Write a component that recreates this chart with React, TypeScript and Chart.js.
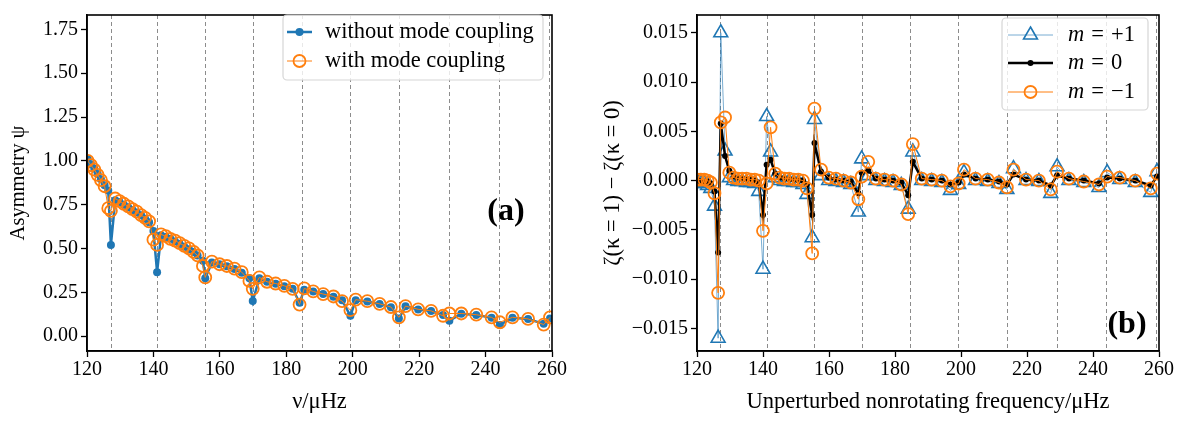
import { useEffect, useRef } from "react";
import { Chart, registerables } from "chart.js";

Chart.register(...registerables);

// ---------------- data ----------------
// unperturbed mode frequencies (μHz), shared by both panels
const freqs = [
  120.2, 121.2, 122.2, 123.2, 124.2, 125.3, 126.4, 127.2, 128.5, 129.8,
  131.1, 132.4, 133.7, 135.0, 136.3, 137.5, 138.7, 140.0, 141.1, 142.3,
  143.7, 145.1, 146.5, 147.9, 149.3, 150.7, 152.1, 153.3, 154.9, 155.6,
  157.6, 159.9, 162.1, 164.4, 166.6, 168.9, 169.9, 171.9, 174.2, 176.8,
  179.4, 181.9, 184.0, 185.4, 188.1, 191.1, 194.2, 196.8, 199.3, 200.9,
  204.4, 208.1, 211.5, 213.9, 215.9, 219.7, 223.6, 227.2, 229.1, 232.7,
  237.2, 241.8, 244.3, 248.1, 252.8, 257.5, 259.4,
];

// panel (a): asymmetry psi
const asymWithout = [
  1.01, 0.98, 0.955, 0.925, 0.895, 0.86, 0.83, 0.52, 0.775, 0.765,
  0.75, 0.735, 0.72, 0.705, 0.69, 0.67, 0.65, 0.6, 0.365, 0.575,
  0.565, 0.555, 0.54, 0.525, 0.51, 0.495, 0.48, 0.46, 0.43, 0.33,
  0.42, 0.41, 0.398, 0.383, 0.362, 0.33, 0.2, 0.33, 0.31, 0.298,
  0.285, 0.27, 0.19, 0.265, 0.254, 0.24, 0.225, 0.205, 0.116, 0.205,
  0.197, 0.183, 0.165, 0.1, 0.17, 0.152, 0.143, 0.12, 0.088, 0.128,
  0.121, 0.105, 0.064, 0.105, 0.097, 0.07, 0.1,
];
const asymWith = [
  1.0, 0.975, 0.95, 0.92, 0.89, 0.855, 0.73, 0.715, 0.785, 0.77,
  0.755, 0.74, 0.725, 0.71, 0.69, 0.675, 0.655, 0.55, 0.52, 0.58,
  0.57, 0.555, 0.545, 0.53, 0.515, 0.5, 0.48, 0.46, 0.4, 0.335,
  0.425, 0.41, 0.4, 0.385, 0.365, 0.315, 0.27, 0.335, 0.31, 0.3,
  0.287, 0.27, 0.18, 0.272, 0.255, 0.24, 0.226, 0.2, 0.148, 0.208,
  0.199, 0.184, 0.166, 0.107, 0.171, 0.153, 0.144, 0.116, 0.129, 0.129,
  0.122, 0.107, 0.079, 0.107, 0.098, 0.066, 0.107,
];

// panel (b): zeta(kappa=1) - zeta(kappa=0)
const dZetaPlus = [
  -0.0002, -0.0003, -0.0003, -0.0005, -0.0008, -0.0026, -0.016, 0.015, 0.003, 0.0003,
  0.0, -0.0001, -0.0001, -0.0002, -0.0002, -0.0003, -0.0011, -0.009, 0.0065, 0.0029,
  0.0003, 0.0, -0.0001, -0.0001, -0.0002, -0.0002, -0.0004, -0.0014, -0.0058, 0.0062,
  0.0005, 0.0, -0.0001, -0.0002, -0.0004, -0.0032, 0.0022, 0.0005, 0.0, -0.0001,
  -0.0002, -0.0005, -0.0029, 0.0029, 0.0, -0.0001, -0.0002, -0.001, -0.0004, 0.0008,
  0.0, -0.0001, -0.0003, -0.0009, 0.0012, 0.0, -0.0001, -0.0013, 0.0014, 0.0,
  -0.0002, -0.0007, 0.0008, 0.0001, -0.0002, -0.0012, 0.0009,
];
const dZetaZero = [
  0.0, -0.0001, -0.0001, -0.0001, -0.0003, -0.0011, -0.0073, 0.0058, 0.0025, 0.001,
  0.0004, 0.0002, 0.0002, 0.0001, 0.0001, 0.0, -0.0002, -0.0035, 0.0016, 0.0021,
  0.0007, 0.0003, 0.0002, 0.0001, 0.0001, 0.0, 0.0, -0.0004, -0.0035, 0.0038,
  0.0009, 0.0003, 0.0001, 0.0, -0.0001, -0.0013, 0.0008, 0.001, 0.0002, 0.0001,
  0.0, -0.0002, -0.0015, 0.0019, 0.0002, 0.0001, 0.0, -0.0004, -0.0002, 0.0006,
  0.0002, 0.0001, -0.0001, -0.0004, 0.0006, 0.0001, 0.0, -0.0005, 0.0005, 0.0002,
  0.0, -0.0003, 0.0003, 0.0002, 0.0, -0.0005, 0.0004,
];
const dZetaMinus = [
  0.0001, 0.0001, 0.0001, 0.0, -0.0002, -0.0013, -0.0114, 0.0059, 0.0064, 0.0008,
  0.0003, 0.0002, 0.0002, 0.0002, 0.0001, 0.0001, 0.0, -0.0051, -0.0003, 0.0054,
  0.0007, 0.0003, 0.0002, 0.0002, 0.0001, 0.0001, 0.0, -0.0008, -0.0074, 0.0073,
  0.0011, 0.0003, 0.0002, 0.0, -0.0002, -0.0019, 0.0004, 0.0019, 0.0002, 0.0001,
  0.0, -0.0004, -0.0034, 0.0037, 0.0002, 0.0001, 0.0, -0.0006, -0.0003, 0.0011,
  0.0002, 0.0001, -0.0002, -0.0007, 0.0011, 0.0001, 0.0, -0.0009, 0.0009, 0.0002,
  -0.0001, -0.0004, 0.0004, 0.0003, 0.0, -0.0008, 0.0007,
];

// nominal p-mode frequencies (dashed vertical lines)
const pModeFreqs = [127.1, 141.2, 155.5, 169.9, 184.6, 199.2, 214.0, 229.0, 244.0, 259.1];

// axis settings
const xRange = [120, 260];
const xStep = 20;
const yRangeA = [-0.085, 1.832];
const yStepA = 0.25;
const yRangeB = [-0.0173, 0.0168];
const yStepB = 0.005;

const legendLabelsA = ["without mode coupling", "with mode coupling"];
const legendLabelsB = ["+1", "0", "\u22121"];

// ---------------- styling ----------------
const SERIF = "'Liberation Serif', 'DejaVu Serif', serif";
const BLUE = "#1f77b4";
const ORANGE = "#ff7f0e";
const tickFont = { family: SERIF, size: 20 };
const xTitleFont = { family: SERIF, size: 22.5 };
const yTitleFontA = { family: SERIF, size: 20.5 };
const yTitleFontB = { family: SERIF, size: 22.5 };
const LEGEND_PX = 22.5;

const pts = (ys: number[]) => freqs.map((x, i) => ({ x, y: ys[i] }));

function fmt(v: number, d: number) {
  const a = Math.abs(v);
  if (a < 1e-12) return (0).toFixed(d);
  return (v < 0 ? "\u2212" : "") + a.toFixed(d);
}

function drawMarker(ctx: CanvasRenderingContext2D, style: string, x: number, y: number, r: number, fill: string | null, stroke: string | null, lw: number) {
  ctx.beginPath();
  if (style === "triangle") {
    let rad = 0;
    ctx.moveTo(x + Math.sin(rad) * r, y - Math.cos(rad) * r);
    rad += (2 * Math.PI) / 3;
    ctx.lineTo(x + Math.sin(rad) * r, y - Math.cos(rad) * r);
    rad += (2 * Math.PI) / 3;
    ctx.lineTo(x + Math.sin(rad) * r, y - Math.cos(rad) * r);
    ctx.closePath();
  } else {
    ctx.arc(x, y, r, 0, Math.PI * 2);
  }
  if (fill) {
    ctx.fillStyle = fill;
    ctx.fill();
  }
  if (stroke && lw > 0) {
    ctx.strokeStyle = stroke;
    ctx.lineWidth = lw;
    ctx.stroke();
  }
}

function roundRect(ctx: CanvasRenderingContext2D, x: number, y: number, w: number, h: number, r: number) {
  ctx.beginPath();
  ctx.moveTo(x + r, y);
  ctx.lineTo(x + w - r, y);
  ctx.arcTo(x + w, y, x + w, y + r, r);
  ctx.lineTo(x + w, y + h - r);
  ctx.arcTo(x + w, y + h, x + w - r, y + h, r);
  ctx.lineTo(x + r, y + h);
  ctx.arcTo(x, y + h, x, y + h - r, r);
  ctx.lineTo(x, y + r);
  ctx.arcTo(x, y, x + r, y, r);
  ctx.closePath();
}

const frameAndLinesPlugin = {
  id: "frameAndLines",
  beforeDatasetsDraw(chart: any) {
    const { ctx, chartArea: a, scales } = chart;
    const x = scales.x;
    ctx.save();
    ctx.strokeStyle = "#8c8c8c";
    ctx.lineWidth = 1;
    ctx.setLineDash([4, 3]);
    pModeFreqs.forEach((f) => {
      const px = Math.round(x.getPixelForValue(f)) + 0.5;
      if (px < a.left || px > a.right) return;
      ctx.beginPath();
      ctx.moveTo(px, a.top);
      ctx.lineTo(px, a.bottom);
      ctx.stroke();
    });
    ctx.restore();
  },
  afterDraw(chart: any) {
    const { ctx, chartArea: a } = chart;
    ctx.save();
    ctx.strokeStyle = "#000";
    ctx.lineWidth = 1.6;
    ctx.strokeRect(a.left, a.top, a.right - a.left, a.bottom - a.top);
    ctx.restore();
  },
};

type LegendCfg = {
  box: [number, number, number, number];
  rowY: number[];
  handle: [number, number];
  textX: number;
  italicM: boolean;
  labels: string[];
  order: number[];
};

function makeLegendPlugin(id: string, cfg: LegendCfg, panelLabel: { text: string; x: number; y: number }) {
  return {
    id,
    afterDraw(chart: any) {
      const ctx: CanvasRenderingContext2D = chart.ctx;
      ctx.save();
      // panel label
      ctx.font = `bold 32px ${SERIF}`;
      ctx.fillStyle = "#000";
      ctx.textAlign = "center";
      ctx.textBaseline = "middle";
      ctx.fillText(panelLabel.text, panelLabel.x, panelLabel.y);

      const [bx, by, bw, bh] = cfg.box;
      roundRect(ctx, bx, by, bw, bh, 4);
      ctx.fillStyle = "rgba(255,255,255,0.8)";
      ctx.fill();
      ctx.strokeStyle = "#d6d6d6";
      ctx.lineWidth = 1.2;
      ctx.stroke();

      cfg.order.forEach((di, row) => {
        const ds = chart.data.datasets[di];
        const y = cfg.rowY[row];
        const [h0, h1] = cfg.handle;
        ctx.beginPath();
        ctx.moveTo(h0, y);
        ctx.lineTo(h1, y);
        ctx.strokeStyle = ds.borderColor;
        ctx.lineWidth = ds.borderWidth;
        ctx.stroke();
        const bg = ds.pointBackgroundColor;
        drawMarker(
          ctx,
          ds.pointStyle,
          (h0 + h1) / 2,
          y,
          ds.pointRadius,
          bg && bg !== "transparent" ? bg : null,
          ds.pointBorderColor,
          ds.pointBorderWidth
        );
        ctx.fillStyle = "#000";
        ctx.textAlign = "left";
        ctx.textBaseline = "middle";
        let tx = cfg.textX;
        if (cfg.italicM) {
          ctx.font = `italic ${LEGEND_PX}px ${SERIF}`;
          ctx.fillText("m", tx, y);
          tx += ctx.measureText("m").width + 7;
          ctx.font = `${LEGEND_PX}px ${SERIF}`;
          ctx.fillText("=", tx, y);
          tx += ctx.measureText("=").width + 7;
          ctx.fillText(cfg.labels[row], tx, y);
        } else {
          ctx.font = `${LEGEND_PX}px ${SERIF}`;
          ctx.fillText(cfg.labels[row], tx, y);
        }
      });
      ctx.restore();
    },
  };
}

function axisCommon() {
  return {
    grid: { display: true, drawOnChartArea: false, drawTicks: true, tickLength: 6, tickColor: "#000", tickWidth: 1.3 },
    border: { display: true, color: "#000", width: 1.6 },
  };
}

function xAxis(title: string): any {
  return {
    type: "linear",
    min: xRange[0],
    max: xRange[1],
    ticks: { stepSize: xStep, font: tickFont, color: "#000", padding: 1, maxRotation: 0, includeBounds: false },
    ...axisCommon(),
    title: { display: true, text: title, font: xTitleFont, color: "#000", padding: { top: 0, bottom: 6 } },
    afterFit: (s: any) => {
      s.height = 71;
    },
  };
}

function makeConfigA(): any {
  return {
    type: "line",
    data: {
      datasets: [
        {
          label: legendLabelsA[1],
          data: pts(asymWith),
          borderColor: ORANGE,
          borderWidth: 1,
          pointStyle: "circle",
          pointRadius: 6,
          pointBackgroundColor: "transparent",
          pointBorderColor: ORANGE,
          pointBorderWidth: 1.8,
          order: 0,
          clip: 0,
        },
        {
          label: legendLabelsA[0],
          data: pts(asymWithout),
          borderColor: BLUE,
          borderWidth: 2.5,
          pointStyle: "circle",
          pointRadius: 4,
          pointBackgroundColor: BLUE,
          pointBorderColor: BLUE,
          pointBorderWidth: 0,
          order: 1,
          clip: 0,
        },
      ],
    },
    options: {
      animation: false,
      responsive: false,
      devicePixelRatio: 1,
      layout: { padding: { left: 0, right: 48, top: 5, bottom: 0 } },
      plugins: { legend: { display: false }, tooltip: { enabled: false } },
      scales: {
        x: xAxis("\u03bd/\u03bcHz"),
        y: {
          type: "linear",
          min: yRangeA[0],
          max: yRangeA[1],
          ticks: { stepSize: yStepA, font: tickFont, color: "#000", padding: 3, includeBounds: false, callback: (v: number) => fmt(v, 2) },
          ...axisCommon(),
          title: { display: true, text: "Asymmetry \u03c8", font: yTitleFontA, color: "#000", padding: { top: 6, bottom: 0 } },
          afterFit: (s: any) => {
            s.width = 87;
          },
        },
      },
    },
    plugins: [
      frameAndLinesPlugin,
      makeLegendPlugin(
        "legendA",
        { box: [283, 15, 260, 65], rowY: [32, 61], handle: [287, 312], textX: 325, italicM: false, labels: legendLabelsA, order: [1, 0] },
        { text: "(a)", x: 506, y: 212 }
      ),
    ],
  };
}

function makeConfigB(): any {
  return {
    type: "line",
    data: {
      datasets: [
        {
          label: "m = -1",
          data: pts(dZetaMinus),
          borderColor: ORANGE,
          borderWidth: 1,
          pointStyle: "circle",
          pointRadius: 6,
          pointBackgroundColor: "transparent",
          pointBorderColor: ORANGE,
          pointBorderWidth: 1.8,
          order: 0,
          clip: 0,
        },
        {
          label: "m = 0",
          data: pts(dZetaZero),
          borderColor: "#000",
          borderWidth: 2.5,
          pointStyle: "circle",
          pointRadius: 3,
          pointBackgroundColor: "#000",
          pointBorderColor: "#000",
          pointBorderWidth: 0,
          order: 1,
          clip: 0,
        },
        {
          label: "m = +1",
          data: pts(dZetaPlus),
          borderColor: "rgba(31,119,180,0.6)",
          borderWidth: 1,
          pointStyle: "triangle",
          pointRadius: 8,
          pointBackgroundColor: "transparent",
          pointBorderColor: BLUE,
          pointBorderWidth: 1.6,
          order: 2,
          clip: 0,
        },
      ],
    },
    options: {
      animation: false,
      responsive: false,
      devicePixelRatio: 1,
      layout: { padding: { left: 0, right: 22, top: 5, bottom: 0 } },
      plugins: { legend: { display: false }, tooltip: { enabled: false } },
      scales: {
        x: xAxis("Unperturbed nonrotating frequency/\u03bcHz"),
        y: {
          type: "linear",
          min: yRangeB[0],
          max: yRangeB[1],
          ticks: { stepSize: yStepB, font: tickFont, color: "#000", padding: 3, includeBounds: false, callback: (v: number) => fmt(v, 3) },
          ...axisCommon(),
          title: { display: true, text: "\u03b6(\u03ba = 1) \u2212 \u03b6(\u03ba = 0)", font: yTitleFontB, color: "#000", padding: { top: 0, bottom: 0 } },
          afterFit: (s: any) => {
            s.width = 97;
          },
        },
      },
    },
    plugins: [
      frameAndLinesPlugin,
      makeLegendPlugin(
        "legendB",
        { box: [402, 18, 146, 92], rowY: [35, 63, 92], handle: [408, 453], textX: 468, italicM: true, labels: legendLabelsB, order: [2, 1, 0] },
        { text: "(b)", x: 527, y: 325 }
      ),
    ],
  };
}

export default function App() {
  const refA = useRef<HTMLCanvasElement>(null);
  const refB = useRef<HTMLCanvasElement>(null);
  useEffect(() => {
    const a = new Chart(refA.current as HTMLCanvasElement, makeConfigA());
    const b = new Chart(refB.current as HTMLCanvasElement, makeConfigB());
    return () => {
      a.destroy();
      b.destroy();
    };
  }, []);
  return (
    <div style={{ position: "fixed", left: 0, top: 0, width: 1181, height: 422, background: "#fff" }}>
      <canvas ref={refA} width={600} height={422} style={{ position: "absolute", left: 0, top: 0, width: 600, height: 422 }} />
      <canvas ref={refB} width={581} height={422} style={{ position: "absolute", left: 600, top: 0, width: 581, height: 422 }} />
    </div>
  );
}
